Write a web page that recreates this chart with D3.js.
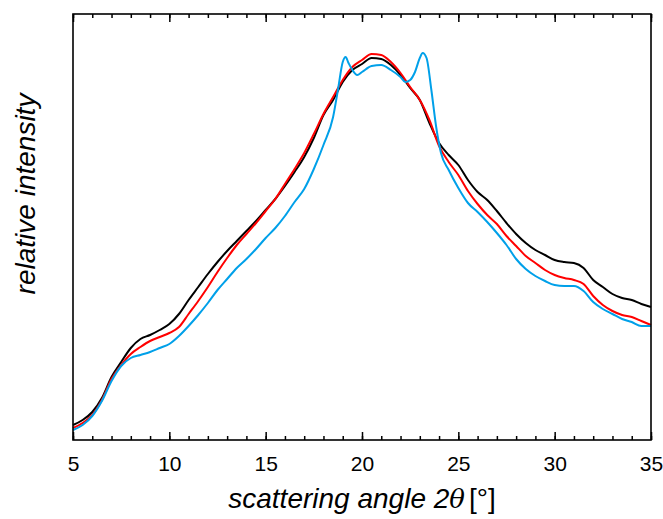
<!DOCTYPE html>
<html>
<head>
<meta charset="utf-8">
<script src="https://cdn.jsdelivr.net/npm/d3@7"></script>
<style>
	body { margin: 0; background: #fff; }
	svg text { font-family: "Liberation Sans", Arial, sans-serif; fill: #000; }
</style>
</head>
<body>
<div id="chart"></div>
<script>
// WAXS patterns, relative intensity vs scattering angle

var width = 663,
	height = 519,
	margin = {top: 14, right: 12, bottom: 79, left: 73};

// scattering angles (deg), shared by black and red curves
var angles = [5, 5.5, 6, 6.5, 7, 7.5, 8, 8.5, 9, 9.5, 10, 10.5, 11, 11.5, 12, 12.5,
	13, 13.5, 14, 14.5, 15, 15.5, 16, 16.5, 17, 17.5, 18, 18.5, 19, 19.5, 20, 20.5,
	21, 21.5, 22, 22.5, 23, 23.5, 24, 24.5, 25, 25.5, 26, 26.5, 27, 27.5, 28, 28.5,
	29, 29.5, 30, 30.5, 31, 31.5, 32, 32.5, 33, 33.5, 34, 34.5, 35];

var black_values = [15, 20, 28, 42, 63, 78, 92, 101, 105, 110, 116, 126, 140, 153, 166, 178,
	189, 199, 209, 219, 230, 241, 254, 268, 283, 302, 325, 340, 358, 370, 376, 382,
	381, 375, 365, 352, 340, 317, 297, 285, 275, 260, 248, 240, 229, 217, 206, 197,
	190, 185, 180, 178, 177, 172, 160, 153, 146, 142, 140, 136, 133];

var red_values = [12, 17, 25, 40, 61, 75, 86, 93, 99, 103, 107, 113, 126, 139, 153, 168,
	182, 195, 206, 217, 229, 241, 256, 271, 287, 306, 326, 343, 360, 373, 380, 386,
	385, 378, 367, 353, 340, 320, 294, 278, 265, 249, 236, 225, 216, 204, 194, 184,
	177, 170, 165, 162, 160, 156, 144, 135, 129, 125, 123, 119, 115];

// blue curve has two sharp reflections, sampled finer there
var blue_angles = [5, 5.5, 6, 6.5, 7, 7.5, 8, 8.5, 9, 9.5, 10, 10.5, 11, 11.5, 12, 12.5,
	13, 13.5, 14, 14.5, 15, 15.5, 16, 16.5, 17, 17.5, 18, 18.5, 18.75, 19, 19.15, 19.3,
	19.5, 19.75, 20, 20.5, 21, 21.5, 22, 22.25, 22.5, 22.75, 23, 23.15, 23.35, 23.6, 23.85,
	24.1, 24.5, 25, 25.5, 26, 26.5, 27, 27.5, 28, 28.5, 29, 29.5, 30, 30.5, 31, 31.5,
	32, 32.5, 33, 33.5, 34, 34.5, 35];

var blue_values = [10, 15, 24, 39, 59, 74, 82, 85, 88, 92, 96, 104, 114, 125, 137, 150,
	161, 172, 181, 191, 202, 212, 224, 238, 251, 271, 295, 323, 350, 378, 383, 377,
	370, 365, 368, 374, 375, 370, 363, 358, 360, 368, 382, 387, 382, 350, 313,
	287, 270, 252, 237, 228, 218, 207, 195, 181, 171, 164, 159, 155, 154, 154, 149,
	138, 131, 126, 121, 118, 114, 114];

var x_ticks = [5, 10, 15, 20, 25, 30, 35];

var series = [
	{color: '#000000', x: angles, y: black_values},
	{color: '#ff0000', x: angles, y: red_values},
	{color: '#00a0e9', x: blue_angles, y: blue_values}
];

var x = d3.scaleLinear().domain([5, 35]).range([margin.left, width - margin.right]);
var y = d3.scaleLinear().domain([0, 426]).range([height - margin.bottom, margin.top]);

var svg = d3.select('#chart')
	.append('svg')
	.attr('width', width)
	.attr('height', height);

// curves
var line = d3.line()
	.x(function(d) { return x(d[0]); })
	.y(function(d) { return y(d[1]); })
	.curve(d3.curveMonotoneX);

svg.selectAll('path.curve')
	.data(series)
	.enter().append('path')
	.attr('class', 'curve')
	.attr('fill', 'none')
	.attr('stroke', function(d) { return d.color; })
	.attr('stroke-width', 2)
	.attr('stroke-linejoin', 'round')
	.attr('d', function(d) {
		return line(d.x.map(function(a, i) { return [a, d.y[i]]; }));
	});

// frame
svg.append('rect')
	.attr('x', margin.left)
	.attr('y', margin.top)
	.attr('width', width - margin.right - margin.left)
	.attr('height', height - margin.bottom - margin.top)
	.attr('fill', 'none')
	.attr('stroke', '#000')
	.attr('stroke-width', 1.6);

// bottom axis, ticks pointing in
var minor = d3.range(5, 35.01, 1);
var bottom = svg.append('g')
	.attr('transform', 'translate(0,' + (height - margin.bottom) + ')')
	.call(d3.axisBottom(x).tickValues(x_ticks).tickSize(-8).tickPadding(18).tickFormat(d3.format('d')));
bottom.select('.domain').remove();
bottom.selectAll('text').attr('font-size', 21).attr('dy', '0.6em');
bottom.selectAll('line').attr('stroke-width', 1.5);

var bottom_minor = svg.append('g')
	.attr('transform', 'translate(0,' + (height - margin.bottom) + ')')
	.call(d3.axisBottom(x).tickValues(minor).tickSize(-4).tickFormat(''));
bottom_minor.select('.domain').remove();
bottom_minor.selectAll('line').attr('stroke-width', 1.5);

// top axis, no labels
var top_major = svg.append('g')
	.attr('transform', 'translate(0,' + margin.top + ')')
	.call(d3.axisTop(x).tickValues(x_ticks).tickSize(-8).tickFormat(''));
top_major.select('.domain').remove();
top_major.selectAll('line').attr('stroke-width', 1.5);

var top_minor = svg.append('g')
	.attr('transform', 'translate(0,' + margin.top + ')')
	.call(d3.axisTop(x).tickValues(minor).tickSize(-4).tickFormat(''));
top_minor.select('.domain').remove();
top_minor.selectAll('line').attr('stroke-width', 1.5);

// axis titles
var xlab = svg.append('text')
	.attr('x', 362)
	.attr('y', 508)
	.attr('text-anchor', 'middle')
	.attr('font-size', 28);
xlab.append('tspan').attr('font-style', 'italic').text('scattering angle 2');
xlab.append('tspan').attr('font-style', 'italic').attr('font-family', '"DejaVu Serif", serif').attr('font-size', 26).text('θ');
xlab.append('tspan').attr('dx', 4).text('[°]');

svg.append('text')
	.attr('transform', 'translate(35,194) rotate(-90)')
	.attr('text-anchor', 'middle')
	.attr('font-size', 28)
	.attr('font-style', 'italic')
	.text('relative intensity');
</script>
</body>
</html>
